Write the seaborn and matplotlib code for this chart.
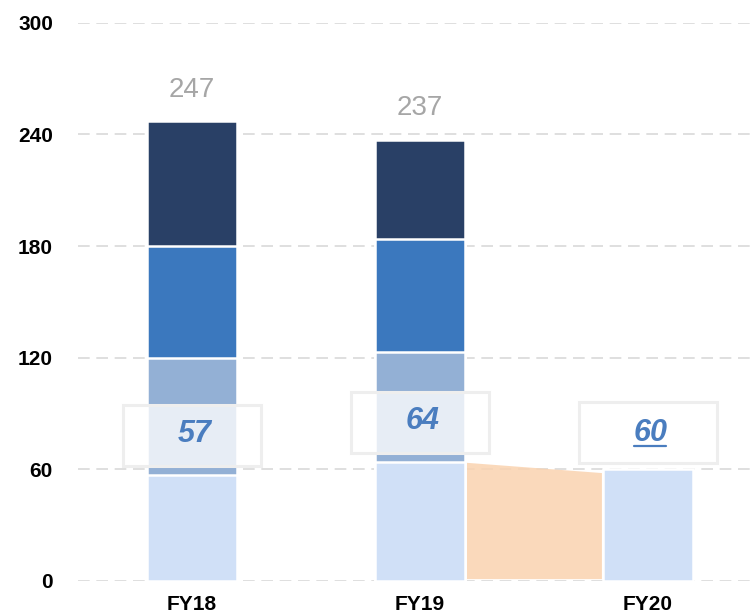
import matplotlib
matplotlib.use("Agg")
import matplotlib.pyplot as plt
import seaborn as sns
import pandas as pd
import numpy as np
from matplotlib.patches import Rectangle

# Data
years = ["FY18", "FY19", "FY20"]
seg1 = [57, 64, 60]          # light blue (bottom)
seg2 = [63, 59, np.nan]      # grey blue
seg3 = [60, 61, np.nan]      # blue
seg4 = [67, 53, np.nan]      # dark navy (top)
totals = [247, 237, None]
box_labels = ["57", "64", "60"]

colors = ["#D0E0F7", "#93B0D5", "#3B78BE", "#294066"]

sns.set_style("white")
plt.rcParams["font.family"] = ["Liberation Sans", "DejaVu Sans"]

fig = plt.figure(figsize=(7.54, 6.15), dpi=100)
ax = fig.add_axes([0.1034, 0.0553, 0.8966, 0.9078])

# cumulative heights, drawn tallest first so the lower segments sit on top
df = pd.DataFrame({"year": years, "s1": seg1, "s2": seg2, "s3": seg3, "s4": seg4})
df["c1"] = df["s1"]
df["c2"] = df["c1"] + df["s2"]
df["c3"] = df["c2"] + df["s3"]
df["c4"] = df["c3"] + df["s4"]

for col, color in zip(["c4", "c3", "c2", "c1"], colors[::-1]):
    sns.barplot(data=df, x="year", y=col, order=years, color=color, saturation=1,
                width=0.395, edgecolor="white", linewidth=1.8, ax=ax, zorder=3)

# bridge between FY19 and FY20
ax.fill([1.206, 1.798, 1.798, 1.206], [seg1[1] - 0.5, seg1[2] - 2, 1, 1],
        color="#FAD3B0", alpha=0.85, lw=0, zorder=2)

# totals above bars
for i, t in enumerate(totals):
    if t is not None:
        ax.text(i, t + 17, str(t), ha="center", va="center", fontsize=20,
                color="#A6A6A6", zorder=6)

# boxed labels
box_y = [61.8, 68.8, 63.4]
text_y = [79, 86, 79.5]
for i, lab in enumerate(box_labels):
    ax.add_patch(Rectangle((i - 0.3025, box_y[i]), 0.605, 32.8, facecolor="white",
                           alpha=0.78, edgecolor="none", zorder=4))
    ax.add_patch(Rectangle((i - 0.3025, box_y[i]), 0.605, 32.8, facecolor="none",
                           edgecolor="#EEEEEE", lw=2.2, zorder=4))
    ax.text(i + 0.01, text_y[i], lab, ha="center", va="center", fontsize=22,
            style="italic", fontweight="bold", color="#4A7DBF", zorder=5)
# underline for FY20 label
ax.plot([1.94, 2.08], [72.5, 72.5], color="#4A7DBF", lw=1.6, zorder=5)

ax.set_ylim(0, 300)
ax.set_xlim(-0.5, 2.465)
ax.set_yticks(range(0, 301, 60))
ax.yaxis.grid(True, linestyle=(0, (7, 4)), color="#D9D9D9", lw=1.2, zorder=0)
ax.xaxis.grid(False)
ax.set_axisbelow(True)
sns.despine(ax=ax, left=True, bottom=True)
ax.set_xlabel("")
ax.set_ylabel("")
ax.tick_params(axis="both", length=0)
ax.tick_params(axis="y", pad=18, labelsize=15)
ax.tick_params(axis="x", pad=10, labelsize=15)
for lbl in ax.get_yticklabels() + ax.get_xticklabels():
    lbl.set_fontweight("bold")
    lbl.set_color("black")

plt.savefig("out.png", dpi=100)
plt.close()
